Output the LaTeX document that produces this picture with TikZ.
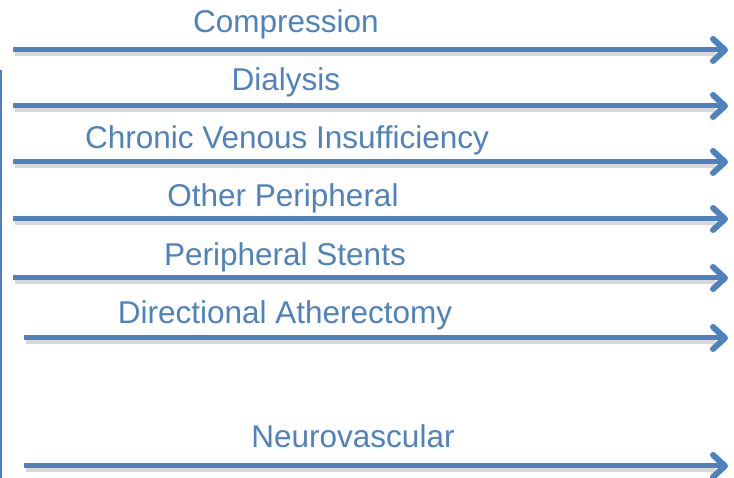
\documentclass[tikz,border=0pt]{standalone}
\usepackage{fontspec}
\setmainfont{Liberation Sans}
\usetikzlibrary{arrows.meta}
\definecolor{ablue}{HTML}{4F81BD}
\begin{document}
\begin{tikzpicture}[x=1pt,y=1pt,
  lbl/.style={text=ablue,font=\fontsize{31.5}{31.5}\selectfont,inner sep=0pt,anchor=base},
  arr/.style={draw=ablue,line width=5pt,-{Straight Barb[length=12pt,width=22pt,line width=6pt,line cap=round,line join=round]}},
  shd/.style={draw=black!25,line width=5pt,opacity=0.6}]
\useasboundingbox (0,0) rectangle (734,478);
% left vertical line
\coordinate (vt) at (1,408);
\coordinate (vb) at (1,-2);
\draw[ablue,line width=2pt] (vt) -- (vb);
\foreach \n/\sx/\yy/\t/\lx/\ly in {
  a/13/50/Compression/286/33,
  b/13/106/Dialysis/286/91,
  c/13/162/Chronic Venous Insufficiency/287/149,
  d/13/219/Other Peripheral/283/207,
  e/13/278/Peripheral Stents/285/266,
  f/24/338/Directional Atherectomy/285/324,
  g/24/466/Neurovascular/353/448}{
  \coordinate (\n s) at (\sx,478-\yy);
  \coordinate (\n e) at (728,478-\yy);
  \coordinate (\n ss) at (\sx+2,478-\yy-3.5);
  \coordinate (\n se) at (715,478-\yy-3.5);
  \draw[shd] (\n ss) -- (\n se);
  \draw[arr] (\n s) -- (\n e);
  \node[lbl] (\n l) at (\lx,478-\ly) {\t};
}
\end{tikzpicture}
\end{document}
